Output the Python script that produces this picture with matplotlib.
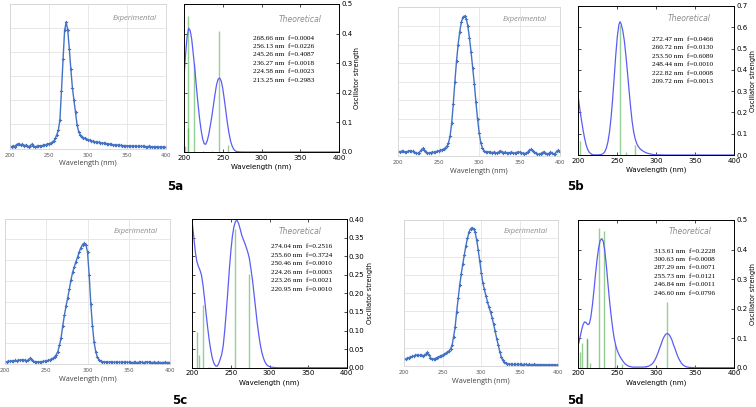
import matplotlib.pyplot as plt
import numpy as np
from matplotlib.ticker import FormatStrFormatter

W, H = 756, 407

# experimental spectra, sampled every 2 nm (arbitrary absorbance units)
wl_exp = list(range(200, 401, 2))

exp_5a = [0.10, 0.06, 0.12, 0.08, 0.15, 0.19, 0.17, 0.16, 0.17, 0.12, 0.14, 0.10, 0.08, 0.12, 0.18, 0.12, 0.07, 0.09, 0.10, 0.12, 0.09, 0.13, 0.15, 0.14, 0.20,
          0.20, 0.22, 0.25, 0.30, 0.42, 0.57, 0.77, 1.20, 2.40, 3.70, 4.90, 5.25, 4.92, 4.15, 3.30, 2.52, 2.00, 1.50, 0.98, 0.70, 0.56, 0.49, 0.45, 0.42, 0.39,
          0.37, 0.35, 0.32, 0.30, 0.28, 0.27, 0.26, 0.25, 0.24, 0.23, 0.22, 0.21, 0.20, 0.19, 0.18, 0.17, 0.16, 0.15, 0.14, 0.14, 0.13, 0.13, 0.12, 0.12, 0.12,
          0.11, 0.11, 0.11, 0.10, 0.10, 0.10, 0.10, 0.09, 0.10, 0.09, 0.09, 0.09, 0.08, 0.08, 0.09, 0.08, 0.08, 0.07, 0.08, 0.07, 0.07, 0.06, 0.07, 0.06, 0.06, 0.05]

exp_5b = [0.25, 0.20, 0.26, 0.24, 0.22, 0.20, 0.25, 0.28, 0.26, 0.24, 0.20, 0.14, 0.14, 0.18, 0.30, 0.40, 0.32, 0.20, 0.17, 0.16, 0.18, 0.20, 0.19, 0.22, 0.25,
          0.27, 0.30, 0.33, 0.37, 0.42, 0.52, 0.70, 1.05, 1.75, 2.80, 4.00, 5.10, 6.00, 6.70, 7.20, 7.48, 7.54, 7.40, 7.00, 6.35, 5.60, 4.75, 3.90, 2.90, 2.00,
          1.25, 0.72, 0.42, 0.28, 0.22, 0.20, 0.22, 0.20, 0.18, 0.20, 0.18, 0.17, 0.20, 0.28, 0.22, 0.18, 0.20, 0.17, 0.16, 0.18, 0.20, 0.17, 0.15, 0.18, 0.22,
          0.20, 0.17, 0.14, 0.12, 0.16, 0.20, 0.30, 0.35, 0.28, 0.20, 0.15, 0.10, 0.08, 0.12, 0.18, 0.22, 0.15, 0.10, 0.12, 0.20, 0.18, 0.10, 0.12, 0.25, 0.30, 0.22]

exp_5c = [0.12, 0.10, 0.15, 0.14, 0.16, 0.15, 0.18, 0.17, 0.19, 0.20, 0.21, 0.20, 0.20, 0.16, 0.20, 0.28, 0.24, 0.15, 0.12, 0.11, 0.12, 0.11, 0.12, 0.13, 0.14,
          0.16, 0.18, 0.20, 0.24, 0.28, 0.34, 0.45, 0.60, 0.90, 1.27, 1.85, 2.35, 2.80, 3.18, 3.62, 4.05, 4.42, 4.68, 4.93, 5.15, 5.40, 5.60, 5.75, 5.81, 5.75,
          5.40, 4.30, 2.90, 1.85, 1.05, 0.60, 0.34, 0.20, 0.14, 0.12, 0.12, 0.11, 0.10, 0.10, 0.11, 0.10, 0.09, 0.10, 0.10, 0.09, 0.09, 0.10, 0.09, 0.09, 0.10,
          0.09, 0.09, 0.08, 0.09, 0.09, 0.08, 0.09, 0.10, 0.09, 0.08, 0.09, 0.12, 0.10, 0.09, 0.08, 0.09, 0.08, 0.08, 0.09, 0.08, 0.08, 0.08, 0.09, 0.08, 0.08, 0.08]

exp_5d = [0.36, 0.38, 0.42, 0.45, 0.50, 0.52, 0.53, 0.58, 0.60, 0.60, 0.58, 0.60, 0.56, 0.58, 0.65, 0.74, 0.60, 0.45, 0.38, 0.38, 0.40, 0.45, 0.48, 0.52, 0.56,
          0.60, 0.65, 0.70, 0.76, 0.82, 0.92, 1.12, 1.60, 2.12, 2.98, 3.70, 4.45, 5.05, 5.60, 6.10, 6.60, 7.00, 7.35, 7.52, 7.59, 7.52, 7.35, 6.90, 6.35, 5.75,
          5.12, 4.55, 4.20, 3.85, 3.52, 3.22, 2.96, 2.65, 2.28, 1.90, 1.50, 1.15, 0.78, 0.48, 0.30, 0.20, 0.15, 0.12, 0.10, 0.09, 0.09, 0.08, 0.09, 0.08, 0.08,
          0.08, 0.08, 0.07, 0.08, 0.08, 0.07, 0.08, 0.07, 0.07, 0.08, 0.07, 0.07, 0.06, 0.07, 0.07, 0.06, 0.06, 0.07, 0.06, 0.06, 0.06, 0.05, 0.06, 0.05, 0.05, 0.05]

# theoretical (broadened) spectra, read in oscillator-strength units
theo_5a_x = list(range(200, 269, 2)) + [272, 280, 300, 400]
theo_5a_y = [0.25, 0.33, 0.39, 0.418, 0.41, 0.38, 0.33, 0.28, 0.22, 0.165, 0.115, 0.075, 0.045, 0.028, 0.026, 0.038, 0.06, 0.09, 0.122, 0.158,
             0.195, 0.227, 0.246, 0.25, 0.24, 0.215, 0.178, 0.138, 0.098, 0.064, 0.038, 0.021, 0.010, 0.004, 0.0015, 0.0003, 0, 0, 0]

theo_5b_x = [200, 202, 204, 206, 208, 210, 212, 214, 216, 218, 220, 226, 230, 232, 234, 236, 238, 240, 242, 244, 246, 248, 250, 252, 253.5,
             255, 257, 259, 261, 263, 265, 267, 269, 271, 273, 275, 277, 280, 284, 288, 292, 296, 300, 310, 400]
theo_5b_y = [0.27, 0.215, 0.165, 0.12, 0.08, 0.048, 0.026, 0.013, 0.006, 0.002, 0.0005, 0.0005, 0.003, 0.0073, 0.016, 0.033, 0.062, 0.108, 0.175,
             0.262, 0.364, 0.468, 0.556, 0.612, 0.626, 0.615, 0.585, 0.537, 0.468, 0.39, 0.307, 0.228, 0.158, 0.108, 0.075, 0.053, 0.039,
             0.026, 0.016, 0.009, 0.005, 0.002, 0.001, 0.0, 0.0]

theo_5c_x = list(range(200, 311, 2)) + [400]
theo_5c_y = [0.389, 0.35, 0.31, 0.285, 0.272, 0.262, 0.248, 0.22, 0.183, 0.143,
             0.106, 0.073, 0.046, 0.025, 0.012, 0.005, 0.004, 0.01, 0.022, 0.035,
             0.058, 0.1, 0.15, 0.205, 0.265, 0.315, 0.355, 0.38, 0.394, 0.396,
             0.388, 0.373, 0.357, 0.345, 0.335, 0.323, 0.31, 0.293, 0.265, 0.235,
             0.198, 0.16, 0.122, 0.09, 0.063, 0.042, 0.027, 0.016, 0.009, 0.005,
             0.003, 0.0015, 0.001, 0.0005, 0.0002, 0.0, 0.0]

theo_5d_x = list(range(200, 351, 2)) + [360, 400]
theo_5d_y = [0.077, 0.10, 0.125, 0.145, 0.155, 0.153, 0.146, 0.148, 0.17, 0.21,
             0.26, 0.315, 0.365, 0.405, 0.43, 0.437, 0.428, 0.395, 0.345, 0.285,
             0.228, 0.178, 0.135, 0.1, 0.075, 0.058, 0.045, 0.035, 0.027, 0.019,
             0.013, 0.009, 0.006, 0.004, 0.003, 0.002, 0.002, 0.002, 0.002, 0.002,
             0.002, 0.002, 0.002, 0.003, 0.004, 0.005, 0.008, 0.011, 0.017, 0.025,
             0.036, 0.049, 0.064, 0.078, 0.094, 0.105, 0.113, 0.116, 0.113, 0.105,
             0.094, 0.078, 0.064, 0.049, 0.035, 0.025, 0.016, 0.010, 0.006, 0.0036,
             0.002, 0.0012, 0.0007, 0.0004, 0.0002, 0.0001, 0.0, 0.0]

# stick spectra (oscillator strengths)
bars_5a_x = [201, 205, 205, 213.25, 224.58, 236.27, 245.26, 256.13, 268.66]
bars_5a_f = [0.02, 0.46, 0.08, 0.2983, 0.0023, 0.0018, 0.4087, 0.0226, 0.0004]
bars_5b_x = [202, 209.72, 222.82, 248.44, 253.50, 260.72, 272.47]
bars_5b_f = [0.068, 0.0013, 0.0008, 0.0010, 0.6089, 0.0130, 0.0466]
bars_5c_x = [206.3, 209, 213.6, 220.95, 223.26, 224.26, 250.46, 255.60, 274.04]
bars_5c_f = [0.097, 0.034, 0.169, 0.0010, 0.0021, 0.0003, 0.0010, 0.3724, 0.2516]
bars_5d_x = [202.6, 205, 210.8, 211.2, 215, 226.5, 233.4, 246.60, 246.84, 255.73, 287.29, 300.63, 313.61]
bars_5d_f = [0.054, 0.083, 0.098, 0.100, 0.015, 0.472, 0.463, 0.0796, 0.0011, 0.0121, 0.0071, 0.0008, 0.2228]

# transitions listed in each panel
trans_5a = [(268.66, 0.0004), (256.13, 0.0226), (245.26, 0.4087), (236.27, 0.0018), (224.58, 0.0023), (213.25, 0.2983)]
trans_5b = [(272.47, 0.0466), (260.72, 0.0130), (253.50, 0.6089), (248.44, 0.0010), (222.82, 0.0008), (209.72, 0.0013)]
trans_5c = [(274.04, 0.2516), (255.60, 0.3724), (250.46, 0.0010), (224.26, 0.0003), (223.26, 0.0021), (220.95, 0.0010)]
trans_5d = [(313.61, 0.2228), (300.63, 0.0008), (287.29, 0.0071), (255.73, 0.0121), (246.84, 0.0011), (246.60, 0.0796)]

xticks = [200, 250, 300, 350, 400]


def box(l, r, t, b):
    return [l / W, 1 - b / H, (r - l) / W, (b - t) / H]


fig = plt.figure(figsize=(W / 100, H / 100), dpi=100)


def exp_panel(rect, y, ytop, tx, ty):
    ax = fig.add_axes(rect)
    ax.plot(wl_exp, y, color='#4472C4', lw=1.0, marker='P', ms=2.4, mew=0)
    ax.set_xlim(200, 400)
    ax.set_ylim(0, ytop)
    ax.set_xticks(xticks)
    ax.set_yticks(range(ytop + 1))
    ax.grid(color='#e4e4e4', lw=0.6)
    ax.set_axisbelow(True)
    ax.tick_params(length=0, labelleft=False, labelsize=4, labelcolor='#595959', pad=3)
    for s in ax.spines.values():
        s.set_color('#d4d4d4')
        s.set_linewidth(0.6)
    ax.set_xlabel('Wavelength (nm)', fontsize=5.2, color='#404040', labelpad=2, family='Open Sans')
    ax.text(tx, ty, 'Experimental', transform=ax.transAxes, ha='right', va='center',
            style='italic', color='#8c8c8c', fontsize=5.5, family='Open Sans')
    return ax


def theo_panel(rect, cx, cy, bx, bf, ytop, ystep, fmt, trans, tx0, ty0, thx, thy):
    ax = fig.add_axes(rect)
    ax.vlines(bx, 0, bf, color='#2ca02c', alpha=0.5, lw=1.0)
    ax.plot(cx, cy, color='#5c5cf5', lw=0.9)
    ax.set_xlim(200, 400)
    ax.set_ylim(0, ytop)
    ax.set_xticks(xticks)
    ax.set_yticks(np.arange(0, ytop + 1e-9, ystep))
    ax.yaxis.set_major_formatter(FormatStrFormatter(fmt))
    ax.tick_params(direction='in', length=2.5, width=0.5, labelsize=5, pad=2,
                   top=True, right=True, labelleft=False, labelright=True)
    ax.tick_params(axis='y', pad=1.5)
    for s in ax.spines.values():
        s.set_linewidth(0.7)
    ax.yaxis.set_label_position('right')
    ax.set_ylabel('Oscillator strength', fontsize=4.8, labelpad=1.5)
    ax.set_xlabel('Wavelength (nm)', fontsize=5, labelpad=2)
    ax.text(thx, thy, 'Theoretical', transform=ax.transAxes, ha='right', va='center',
            style='italic', color='#8c8c8c', fontsize=5.5)
    for i, (w, f) in enumerate(trans):
        ax.text(tx0, ty0 - i * 0.057, f'{w:.2f} nm  f={f:.4f}', transform=ax.transAxes,
                ha='left', va='center', fontsize=5.2, family='Liberation Serif')
    return ax


exp_panel(box(10, 166, 4, 148.5), exp_5a, 6, 0.94, 0.90)
theo_panel(box(184, 339, 4, 152), theo_5a_x, theo_5a_y, bars_5a_x, bars_5a_f, 0.5, 0.1, '%.1f',
           trans_5a, 0.445, 0.77, 0.888, 0.897)

exp_panel(box(398.3, 560, 7.4, 155.9), exp_5b, 8, 0.92, 0.92)
theo_panel(box(578.3, 734.3, 6, 155), theo_5b_x, theo_5b_y, bars_5b_x, bars_5b_f, 0.7, 0.1, '%.1f',
           trans_5b, 0.474, 0.776, 0.85, 0.913)

exp_panel(box(5, 170, 218.5, 364.2), exp_5c, 7, 0.925, 0.91)
theo_panel(box(192.3, 346.7, 219, 367.7), theo_5c_x, theo_5c_y, bars_5c_x, bars_5c_f, 0.4, 0.05, '%.2f',
           trans_5c, 0.51, 0.814, 0.838, 0.915)

exp_panel(box(404.3, 558.3, 220.1, 365.9), exp_5d, 8, 0.93, 0.92)
theo_panel(box(578.3, 734.3, 220, 367.7), theo_5d_x, theo_5d_y, bars_5d_x, bars_5d_f, 0.5, 0.1, '%.1f',
           trans_5d, 0.487, 0.79, 0.855, 0.92)

for lab, x, y in [('5a', 167, 186), ('5b', 567, 186), ('5c', 172, 400), ('5d', 567, 400)]:
    fig.text(x / W, 1 - y / H, lab, fontsize=8.5, fontweight='bold', ha='left', va='center')

fig.savefig('out.png', dpi=100)
